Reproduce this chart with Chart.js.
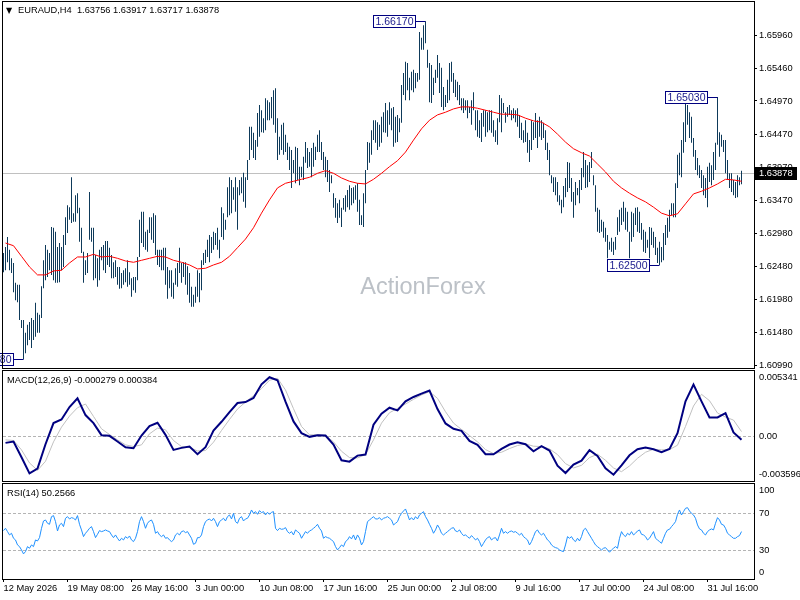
<!DOCTYPE html>
<html>
<head>
<meta charset="utf-8">
<title>EURAUD H4</title>
<script src="https://cdn.jsdelivr.net/npm/chart.js@4.4.1/dist/chart.umd.min.js"></script>
<style>
  body { margin: 0; background: #fff; }
  #wrap { position: relative; width: 800px; height: 600px; overflow: hidden; background: #fff; }
  canvas { position: absolute; left: 0; }
</style>
</head>
<body>
<div id="wrap">
  <canvas id="priceChart" width="800" height="369" style="top:0"></canvas>
  <canvas id="macdChart" width="800" height="112" style="top:370px"></canvas>
  <canvas id="rsiChart" width="800" height="117" style="top:483px"></canvas>
</div>
<script>
// ---- data (H4 bars, oldest first) ----
const highs = [
  1.6268,1.6277,1.6292,1.6273,1.6260,1.6253,1.6223,1.6220,1.6220,1.6167,
  1.6167,1.6148,1.6160,1.6164,1.6170,1.6167,1.6193,1.6178,1.6175,1.6218,
  1.6257,1.6280,1.6273,1.6268,1.6307,1.6306,1.6300,1.6277,1.6283,1.6277,
  1.6295,1.6322,1.6340,1.6337,1.6382,1.6328,1.6355,1.6358,1.6336,1.6306,
  1.6270,1.6257,1.6268,1.6360,1.6306,1.6306,1.6265,1.6260,1.6273,1.6277,
  1.6280,1.6286,1.6286,1.6276,1.6265,1.6254,1.6257,1.6247,1.6247,1.6238,
  1.6242,1.6245,1.6257,1.6239,1.6230,1.6232,1.6232,1.6262,1.6318,1.6330,
  1.6330,1.6300,1.6303,1.6322,1.6322,1.6328,1.6325,1.6273,1.6273,1.6273,
  1.6276,1.6276,1.6247,1.6242,1.6242,1.6223,1.6245,1.6253,1.6276,1.6253,
  1.6254,1.6254,1.6248,1.6238,1.6217,1.6205,1.6217,1.6242,1.6238,1.6257,
  1.6268,1.6273,1.6288,1.6295,1.6292,1.6300,1.6298,1.6306,1.6288,1.6337,
  1.6328,1.6318,1.6367,1.6382,1.6378,1.6367,1.6382,1.6367,1.6378,1.6382,
  1.6389,1.6382,1.6408,1.6458,1.6458,1.6449,1.6438,1.6479,1.6491,1.6483,
  1.6471,1.6501,1.6498,1.6495,1.6503,1.6513,1.6516,1.6471,1.6443,1.6461,
  1.6464,1.6446,1.6434,1.6428,1.6423,1.6408,1.6428,1.6426,1.6398,1.6398,
  1.6413,1.6435,1.6426,1.6420,1.6426,1.6434,1.6428,1.6446,1.6453,1.6435,
  1.6420,1.6413,1.6408,1.6393,1.6385,1.6358,1.6351,1.6343,1.6348,1.6336,
  1.6351,1.6355,1.6363,1.6370,1.6366,1.6367,1.6370,1.6373,1.6348,1.6325,
  1.6358,1.6393,1.6435,1.6434,1.6453,1.6468,1.6468,1.6465,1.6461,1.6473,
  1.6480,1.6494,1.6483,1.6495,1.6486,1.6488,1.6473,1.6476,1.6471,1.6521,
  1.6539,1.6556,1.6554,1.6532,1.6541,1.6544,1.6539,1.6539,1.6601,1.6592,
  1.6611,1.6617,1.6574,1.6554,1.6551,1.6532,1.6544,1.6566,1.6554,1.6547,
  1.6518,1.6506,1.6529,1.6554,1.6556,1.6539,1.6529,1.6526,1.6521,1.6501,
  1.6501,1.6498,1.6498,1.6488,1.6498,1.6510,1.6483,1.6483,1.6468,1.6479,
  1.6483,1.6483,1.6480,1.6483,1.6483,1.6468,1.6453,1.6471,1.6506,1.6501,
  1.6494,1.6480,1.6488,1.6491,1.6483,1.6486,1.6483,1.6486,1.6476,1.6464,
  1.6453,1.6468,1.6449,1.6438,1.6468,1.6465,1.6479,1.6468,1.6473,1.6468,
  1.6464,1.6453,1.6434,1.6423,1.6385,1.6382,1.6382,1.6375,1.6355,1.6348,
  1.6369,1.6381,1.6405,1.6404,1.6381,1.6360,1.6375,1.6366,1.6378,1.6396,
  1.6420,1.6408,1.6400,1.6405,1.6420,1.6385,1.6370,1.6336,1.6333,1.6318,
  1.6315,1.6306,1.6295,1.6285,1.6291,1.6285,1.6292,1.6322,1.6333,1.6336,
  1.6345,1.6336,1.6330,1.6300,1.6330,1.6328,1.6336,1.6337,1.6330,1.6313,
  1.6303,1.6300,1.6288,1.6307,1.6306,1.6300,1.6292,1.6276,1.6285,1.6277,
  1.6298,1.6310,1.6321,1.6333,1.6343,1.6343,1.6373,1.6416,1.6419,1.6438,
  1.6465,1.6494,1.6491,1.6480,1.6473,1.6441,1.6423,1.6411,1.6400,1.6393,
  1.6385,1.6381,1.6398,1.6404,1.6400,1.6420,1.6434,1.6503,1.6450,1.6446,
  1.6438,1.6438,1.6408,1.6388,1.6388,1.6378,1.6375,1.6385,1.6382,1.63917
];
const lows = [
  1.6239,1.6242,1.6254,1.6242,1.6238,1.6209,1.6197,1.6194,1.6167,1.6155,
  1.6108,1.6117,1.6129,1.6137,1.6125,1.6137,1.6142,1.6148,1.6148,1.6170,
  1.6215,1.6227,1.6232,1.6242,1.6235,1.6227,1.6223,1.6223,1.6224,1.6242,
  1.6247,1.6280,1.6298,1.6318,1.6313,1.6315,1.6315,1.6328,1.6285,1.6268,
  1.6223,1.6235,1.6238,1.6288,1.6285,1.6227,1.6230,1.6217,1.6227,1.6257,
  1.6242,1.6238,1.6250,1.6247,1.6230,1.6230,1.6232,1.6220,1.6214,1.6215,
  1.6220,1.6224,1.6217,1.6220,1.6202,1.6212,1.6208,1.6227,1.6262,1.6283,
  1.6277,1.6273,1.6270,1.6298,1.6288,1.6283,1.6265,1.6250,1.6247,1.6242,
  1.6242,1.6220,1.6199,1.6215,1.6202,1.6199,1.6220,1.6217,1.6238,1.6223,
  1.6232,1.6220,1.6205,1.6193,1.6187,1.6187,1.6193,1.6202,1.6194,1.6212,
  1.6250,1.6253,1.6262,1.6254,1.6268,1.6273,1.6280,1.6273,1.6260,1.6292,
  1.6288,1.6303,1.6322,1.6325,1.6328,1.6348,1.6330,1.6303,1.6355,1.6358,
  1.6345,1.6336,1.6378,1.6408,1.6423,1.6411,1.6408,1.6428,1.6443,1.6450,
  1.6449,1.6453,1.6468,1.6468,1.6471,1.6461,1.6449,1.6408,1.6416,1.6423,
  1.6416,1.6420,1.6408,1.6393,1.6366,1.6388,1.6373,1.6378,1.6370,1.6382,
  1.6378,1.6404,1.6396,1.6398,1.6382,1.6398,1.6408,1.6420,1.6420,1.6408,
  1.6393,1.6382,1.6375,1.6360,1.6373,1.6336,1.6321,1.6313,1.6321,1.6307,
  1.6333,1.6330,1.6337,1.6333,1.6340,1.6343,1.6348,1.6330,1.6310,1.6310,
  1.6307,1.6343,1.6393,1.6404,1.6416,1.6438,1.6434,1.6423,1.6428,1.6434,
  1.6450,1.6449,1.6443,1.6461,1.6453,1.6428,1.6434,1.6435,1.6450,1.6464,
  1.6506,1.6498,1.6513,1.6498,1.6513,1.6510,1.6516,1.6526,1.6529,1.6574,
  1.6574,1.6584,1.6547,1.6495,1.6494,1.6506,1.6524,1.6532,1.6509,1.6488,
  1.6483,1.6488,1.6494,1.6498,1.6526,1.6509,1.6503,1.6498,1.6491,1.6483,
  1.6479,1.6483,1.6471,1.6479,1.6461,1.6483,1.6453,1.6443,1.6441,1.6435,
  1.6458,1.6443,1.6450,1.6453,1.6449,1.6443,1.6435,1.6431,1.6465,1.6450,
  1.6479,1.6464,1.6473,1.6476,1.6468,1.6471,1.6465,1.6458,1.6441,1.6438,
  1.6434,1.6435,1.6419,1.6405,1.6423,1.6438,1.6441,1.6426,1.6443,1.6438,
  1.6441,1.6423,1.6408,1.6385,1.6373,1.6360,1.6355,1.6345,1.6340,1.6328,
  1.6337,1.6352,1.6360,1.6366,1.6345,1.6321,1.6340,1.6355,1.6343,1.6363,
  1.6382,1.6366,1.6367,1.6375,1.6396,1.6370,1.6330,1.6300,1.6298,1.6300,
  1.6291,1.6285,1.6260,1.6273,1.6270,1.6265,1.6273,1.6295,1.6300,1.6310,
  1.6315,1.6303,1.6300,1.6260,1.6285,1.6292,1.6310,1.6300,1.6298,1.6288,
  1.6270,1.6268,1.6276,1.6260,1.6280,1.6276,1.6265,1.6253,1.6250,1.6254,
  1.6257,1.6280,1.6291,1.6300,1.6325,1.6322,1.6322,1.6366,1.6385,1.6382,
  1.6419,1.6435,1.6461,1.6441,1.6434,1.6413,1.6393,1.6385,1.6381,1.6366,
  1.6355,1.6351,1.6337,1.6375,1.6370,1.6378,1.6393,1.6431,1.6413,1.6428,
  1.6420,1.6388,1.6378,1.6366,1.6360,1.6355,1.6351,1.6352,1.6370,1.63717
];
// last bar: open, high, low, close
const lastBar = [1.63756, 1.63917, 1.63717, 1.63878];

// indicator lines are sampled every 4 bars, starting at bar 1
const lineStart = 1;
const lineStep = 4;
const maValues = [
  1.6283,1.6279,1.6263,1.6247,1.6235,1.6235,1.6241,1.6242,1.6253,1.6262,
  1.6262,1.6266,1.6262,1.6263,1.6260,1.6256,1.6254,1.6257,1.6260,1.6263,
  1.6262,1.6257,1.6254,1.6250,1.6244,1.6245,1.6250,1.6254,1.6263,1.6276,
  1.6289,1.6306,1.6328,1.6348,1.6366,1.6373,1.6376,1.6379,1.6382,1.6388,
  1.6392,1.6388,1.6381,1.6376,1.6373,1.6372,1.6379,1.6388,1.6398,1.6407,
  1.6420,1.6438,1.6455,1.6468,1.6476,1.6480,1.6485,1.6488,1.6488,1.6486,
  1.6483,1.6480,1.6477,1.6477,1.6476,1.6471,1.6467,1.6465,1.6458,1.6447,
  1.6435,1.6425,1.6419,1.6414,1.6402,1.6390,1.6376,1.6366,1.6358,1.6351,
  1.6345,1.6337,1.6328,1.6324,1.6327,1.6342,1.6357,1.6361,1.6366,1.6372,
  1.6379,1.6378,1.6376
];
const macdValues = [
  -0.000526,-0.000418,-0.001685,-0.002979,-0.002602,-0.000634,0.001065,0.001361,0.002359,0.003060,
  0.001712,0.001065,0.000094,0.000040,-0.000418,-0.000876,-0.000957,0.000067,0.000822,0.001092,
  0.000121,-0.001092,-0.000930,-0.000822,-0.001442,-0.000876,0.000472,0.001173,0.001955,0.002683,
  0.002763,0.003087,0.004192,0.004758,0.004516,0.002790,0.001200,0.000256,-0.000040,0.000094,
  0.000067,-0.000661,-0.001928,-0.002035,-0.001550,-0.001469,0.000930,0.001820,0.002305,0.002089,
  0.002817,0.003168,0.003437,0.003680,0.002197,0.001038,0.000607,0.000445,-0.000364,-0.000687,
  -0.001442,-0.001442,-0.001011,-0.000661,-0.000472,-0.000634,-0.001200,-0.000795,-0.001146,-0.002359,
  -0.002952,-0.002278,-0.001955,-0.001119,-0.001577,-0.002575,-0.003087,-0.002332,-0.001523,-0.001038,
  -0.000903,-0.001038,-0.001281,-0.001011,0.000256,0.002817,0.004165,0.002817,0.001523,0.001523,
  0.001874,0.000310,-0.000279
];
const signalValues = [
  -0.000283,-0.000337,-0.001092,-0.002143,-0.002736,-0.002009,-0.000445,0.000741,0.001631,0.002305,
  0.002602,0.001604,0.000607,0.000148,-0.000283,-0.000687,-0.000822,-0.000687,0.000202,0.000661,
  0.000526,-0.000337,-0.000822,-0.000903,-0.001173,-0.001146,-0.000472,0.000472,0.001361,0.002197,
  0.002763,0.003276,0.003842,0.004516,0.004678,0.003734,0.002224,0.000795,0.000121,0.000121,
  0.000067,-0.000445,-0.001200,-0.001712,-0.001739,-0.001469,-0.000283,0.001065,0.001901,0.002251,
  0.002602,0.002979,0.003330,0.003599,0.003060,0.001982,0.001065,0.000553,0.000067,-0.000445,
  -0.001065,-0.001388,-0.001281,-0.000984,-0.000741,-0.000607,-0.000795,-0.000822,-0.001011,-0.001469,
  -0.002197,-0.002548,-0.002332,-0.001712,-0.001442,-0.001928,-0.002548,-0.002844,-0.002386,-0.001766,
  -0.001281,-0.001038,-0.001092,-0.001065,-0.000714,0.000795,0.002440,0.003384,0.002871,0.001874,
  0.001550,0.001308,0.000384
];
// RSI(14), one value per bar
const rsiValues = [
  51.3,53.8,50.2,46.6,48.4,43.0,41.2,35.8,34.0,30.4,
  26.1,28.6,34.0,32.2,35.8,34.0,41.2,40.1,43.7,53.8,
  61.7,62.8,59.2,58.1,66.4,67.5,61.0,50.9,57.4,59.2,
  55.6,64.6,66.4,63.9,65.3,64.6,62.8,67.5,58.1,52.0,
  44.8,48.4,50.9,53.8,55.6,50.2,43.7,47.3,51.3,50.2,
  50.9,52.0,50.9,50.2,46.6,43.7,46.6,43.0,40.1,43.0,
  41.2,44.8,43.0,45.5,41.2,39.4,43.0,50.2,61.0,66.4,
  61.0,53.8,59.2,61.7,62.8,58.1,48.4,50.2,46.6,44.8,
  46.6,43.0,43.7,41.2,39.4,41.2,46.6,48.4,46.6,50.2,
  50.9,49.1,50.2,46.6,43.0,36.5,37.6,43.7,43.7,46.6,
  55.6,61.0,62.8,63.9,61.7,64.6,61.0,55.6,61.0,62.8,
  64.6,61.7,66.4,68.2,63.9,70.0,61.0,59.2,64.6,66.4,
  61.7,63.9,64.6,68.2,73.6,70.0,71.8,68.9,72.9,70.7,
  71.8,68.2,71.1,68.9,71.1,71.8,53.8,51.3,53.8,52.7,
  53.1,54.5,50.2,48.4,50.2,46.6,52.0,50.2,48.4,43.0,
  46.6,50.2,48.4,50.9,52.0,53.8,55.6,58.1,53.8,50.9,
  43.0,44.8,43.7,43.0,41.2,39.4,34.0,30.4,32.9,35.8,
  34.0,39.4,41.2,44.8,42.3,46.6,41.2,46.6,43.0,35.8,
  39.4,50.2,61.0,62.8,64.6,66.4,63.9,63.9,65.3,62.8,
  64.6,65.3,66.4,64.6,62.8,57.4,59.2,61.0,66.4,
  70.0,72.5,74.7,68.9,62.8,65.3,62.8,66.4,63.9,68.2,
  70.0,71.8,66.4,62.8,58.1,53.8,48.4,52.0,57.4,53.8,
  48.4,46.6,48.4,50.2,52.0,53.8,54.5,50.9,50.2,52.0,
  48.4,45.9,46.6,44.8,43.0,45.9,43.7,41.2,43.0,39.4,
  34.0,37.6,41.2,43.7,44.8,41.2,43.0,43.7,40.1,46.6,
  53.8,48.4,50.2,48.4,50.2,50.9,49.5,50.2,48.4,46.6,
  48.4,44.8,43.0,41.2,35.8,39.4,44.8,50.2,52.0,48.4,
  46.6,48.4,44.8,41.2,39.4,35.8,34.0,32.9,32.2,30.4,
  29.3,28.6,35.8,44.8,43.0,44.8,41.2,39.4,43.0,40.1,
  44.8,52.0,53.8,50.2,46.6,43.0,39.4,35.8,34.0,32.2,
  30.4,32.2,32.9,30.4,27.9,30.4,32.2,34.0,32.2,43.0,
  50.2,46.6,44.8,48.4,46.6,50.2,46.6,48.4,50.9,52.0,
  47.3,46.6,44.8,41.2,43.0,46.6,50.2,43.0,41.2,39.4,
  37.6,43.0,48.4,52.0,52.7,55.6,58.1,61.0,68.9,73.6,
  68.2,71.8,75.4,76.1,72.5,70.0,68.2,64.6,57.4,53.1,
  52.0,48.4,46.6,50.2,52.0,53.1,52.0,59.2,65.3,62.8,
  58.1,57.4,53.8,48.4,46.6,44.8,43.0,43.0,44.8,45.9,
  50.2566
];

// labelled highs / lows
const markBars = [211, 357, 328, 10];
const markPrices = [1.66170, 1.65030, 1.62500, 1.61080];

// axis ticks
const priceTicks = [1.60990, 1.61480, 1.61980, 1.62480, 1.62980, 1.63470, 1.63970, 1.64470, 1.64970, 1.65460, 1.65960];
const macdTicks = [0.005341, 0, -0.003596];
const rsiTicks = [100, 70, 30, 0];
const rsiLevels = [70, 30];
const tickEvery = 32;
const tickLabels = ['12 May 2026', '19 May 08:00', '26 May 16:00', '3 Jun 00:00', '10 Jun 08:00', '17 Jun 16:00',
  '25 Jun 00:00', '2 Jul 08:00', '9 Jul 16:00', '17 Jul 00:00', '24 Jul 08:00', '31 Jul 16:00'];

// ---- drawing ----
const FAMILY = '"Liberation Sans", Arial, sans-serif';
const FONT = { family: FAMILY, size: 9.3 };
const AXIS_W = 46;

const xScale = () => ({ type: 'linear', min: -0.75, max: 375.25, offset: false, display: false });
const linePts = vals => vals.map((v, k) => ({ x: lineStart + k * lineStep, y: v }));
const baseOpts = padding => ({
  responsive: false,
  animation: false,
  devicePixelRatio: 1,
  events: [],
  layout: { padding },
  plugins: { legend: { display: false }, tooltip: { enabled: false } }
});

const frame = {
  id: 'frame',
  afterDraw(chart) {
    const { ctx, chartArea: a } = chart;
    ctx.save();
    ctx.strokeStyle = '#000';
    ctx.lineWidth = 1;
    ctx.strokeRect(a.left + 0.5, a.top + 0.5, a.right - a.left, a.bottom - a.top);
    ctx.restore();
  }
};

function panelTitle(text) {
  return {
    id: 'panelTitle',
    afterDraw(chart) {
      const ctx = chart.ctx;
      ctx.save();
      ctx.font = `${FONT.size}px ${FAMILY}`;
      ctx.fillStyle = '#000';
      ctx.textBaseline = 'alphabetic';
      ctx.fillText(text, 7, chart.chartArea.top + 13);
      ctx.restore();
    }
  };
}

function sideLabels(values, fmt) {
  return {
    id: 'sideLabels',
    afterDraw(chart) {
      const { ctx, chartArea: a, scales: { y } } = chart;
      ctx.save();
      ctx.font = `${FONT.size}px ${FAMILY}`;
      ctx.fillStyle = '#000';
      ctx.textBaseline = 'middle';
      values.forEach(v => {
        const py = Math.min(Math.max(y.getPixelForValue(v), a.top + 7), a.bottom - 7);
        ctx.fillText(fmt(v), a.right + 5, py);
      });
      ctx.restore();
    }
  };
}

function dashedLevels(levels) {
  return {
    id: 'dashedLevels',
    beforeDatasetsDraw(chart) {
      const { ctx, chartArea: a, scales: { y } } = chart;
      ctx.save();
      ctx.strokeStyle = '#b4b4b4';
      ctx.lineWidth = 1;
      ctx.setLineDash([3, 2]);
      levels.forEach(v => {
        const py = Math.round(y.getPixelForValue(v)) + 0.5;
        ctx.beginPath();
        ctx.moveTo(a.left + 1, py);
        ctx.lineTo(a.right, py);
        ctx.stroke();
      });
      ctx.restore();
    }
  };
}

const priceExtras = {
  id: 'priceExtras',
  beforeDatasetsDraw(chart) {
    const { ctx, chartArea: a, scales: { y } } = chart;
    ctx.save();
    // watermark
    ctx.font = `23.5px ${FAMILY}`;
    ctx.fillStyle = '#bcc1c7';
    ctx.textAlign = 'center';
    ctx.textBaseline = 'middle';
    ctx.fillText('ActionForex', 423, 288);
    // last price line
    const py = Math.round(y.getPixelForValue(lastBar[3])) + 0.5;
    ctx.strokeStyle = '#c0c0c0';
    ctx.lineWidth = 1;
    ctx.beginPath();
    ctx.moveTo(a.left, py);
    ctx.lineTo(a.right, py);
    ctx.stroke();
    ctx.restore();
  },
  afterDatasetsDraw(chart) {
    const { ctx, scales: { x, y } } = chart;
    ctx.save();
    ctx.font = `10.5px ${FAMILY}`;
    ctx.lineWidth = 1;
    markBars.forEach((bar, k) => {
      const bx = x.getPixelForValue(bar);
      const py = Math.round(y.getPixelForValue(markPrices[k]));
      const text = markPrices[k].toFixed(5);
      const w = Math.round(ctx.measureText(text).width) + 5;
      const right = Math.round(bx) - 10;
      const left = right - w;
      ctx.strokeStyle = '#000080';
      ctx.beginPath();
      ctx.moveTo(right, py + 0.5);
      ctx.lineTo(bx, py + 0.5);
      ctx.stroke();
      ctx.fillStyle = '#fff';
      ctx.fillRect(left, py - 6, w, 13);
      ctx.strokeRect(left + 0.5, py - 5.5, w - 1, 12);
      ctx.fillStyle = '#1a1a8c';
      ctx.textAlign = 'center';
      ctx.textBaseline = 'middle';
      ctx.fillText(text, left + w / 2, py + 1);
    });
    ctx.restore();
  },
  afterDraw(chart) {
    const { ctx, chartArea: a, scales: { y } } = chart;
    ctx.save();
    // symbol header
    ctx.fillStyle = '#000';
    ctx.textBaseline = 'alphabetic';
    ctx.font = `8px "DejaVu Sans", sans-serif`;
    ctx.fillText('\u25BC', 6, 13);
    ctx.font = `${FONT.size}px ${FAMILY}`;
    ctx.fillText('EURAUD,H4  ' + lastBar.map(v => v.toFixed(5)).join(' '), 18, 13);
    // current price tag on the axis
    const py = Math.round(y.getPixelForValue(lastBar[3]));
    ctx.fillStyle = '#000';
    ctx.fillRect(a.right + 1, py - 6, 42, 13);
    ctx.fillStyle = '#fff';
    ctx.textBaseline = 'middle';
    ctx.fillText(lastBar[3].toFixed(5), a.right + 5, py + 0.5);
    ctx.restore();
  }
};

new Chart(document.getElementById('priceChart'), {
  type: 'bar',
  data: {
    datasets: [
      {
        type: 'line',
        data: linePts(maValues),
        borderColor: '#ff0000',
        borderWidth: 1,
        pointRadius: 0,
        tension: 0,
        order: 0
      },
      {
        type: 'bar',
        data: highs.map((h, i) => ({ x: i, y: [lows[i], h] })),
        backgroundColor: '#0e3a5a',
        borderWidth: 0,
        inflateAmount: 0,
        barThickness: 1,
        order: 1
      }
    ]
  },
  options: {
    ...baseOpts({ left: 2, top: 1, right: 0, bottom: 1 }),
    scales: {
      x: xScale(),
      y: {
        position: 'right',
        min: 1.60948,
        max: 1.66475,
        afterBuildTicks: s => { s.ticks = priceTicks.map(v => ({ value: v })); },
        afterFit: s => { s.width = AXIS_W; s.paddingTop = 0; s.paddingBottom = 0; },
        ticks: { font: FONT, color: '#000', padding: 2, callback: v => Number(v).toFixed(5) },
        grid: { drawOnChartArea: false, tickLength: 3, color: '#000' },
        border: { display: false }
      }
    }
  },
  plugins: [priceExtras, frame]
});

new Chart(document.getElementById('macdChart'), {
  type: 'line',
  data: {
    datasets: [
      { data: linePts(macdValues), borderColor: '#000080', borderWidth: 2, pointRadius: 0, tension: 0, order: 0 },
      { data: linePts(signalValues), borderColor: '#c0c0c0', borderWidth: 1, pointRadius: 0, tension: 0, order: 1 }
    ]
  },
  options: {
    ...baseOpts({ left: 2, top: 0, right: 0, bottom: 1 }),
    scales: {
      x: xScale(),
      y: {
        position: 'right',
        min: -0.003596,
        max: 0.005341,
        afterFit: s => { s.width = AXIS_W; s.paddingTop = 0; s.paddingBottom = 0; },
        ticks: { display: false },
        grid: { display: false },
        border: { display: false }
      }
    }
  },
  plugins: [
    dashedLevels([0]),
    sideLabels(macdTicks, v => (v === 0 ? '0.00' : v.toFixed(6))),
    panelTitle(`MACD(12,26,9) ${macdValues[macdValues.length - 1].toFixed(6)} ${signalValues[signalValues.length - 1].toFixed(6)}`),
    frame
  ]
});

new Chart(document.getElementById('rsiChart'), {
  type: 'line',
  data: {
    datasets: [
      { data: rsiValues.map((v, i) => ({ x: i, y: v })), borderColor: '#1e90ff', borderWidth: 1, pointRadius: 0, tension: 0 }
    ]
  },
  options: {
    ...baseOpts({ left: 2, top: 0, right: 0, bottom: 0 }),
    scales: {
      x: {
        ...xScale(),
        display: true,
        afterBuildTicks: s => { s.ticks = tickLabels.map((_, k) => ({ value: k * tickEvery })); },
        afterFit: s => { s.height = 21; s.paddingLeft = 0; s.paddingRight = 0; },
        ticks: { autoSkip: false, maxRotation: 0, align: 'start', padding: 1, font: FONT, color: '#000', callback: (v, i) => tickLabels[i] },
        grid: { drawOnChartArea: false, tickLength: 3, color: '#000', offset: false },
        border: { display: false }
      },
      y: {
        position: 'right',
        min: -1.03,
        max: 102.76,
        afterFit: s => { s.width = AXIS_W; s.paddingTop = 0; s.paddingBottom = 0; },
        ticks: { display: false },
        grid: { display: false },
        border: { display: false }
      }
    }
  },
  plugins: [
    dashedLevels(rsiLevels),
    sideLabels(rsiTicks, v => String(v)),
    panelTitle(`RSI(14) ${rsiValues[rsiValues.length - 1].toFixed(4)}`),
    frame
  ]
});
</script>
</body>
</html>
